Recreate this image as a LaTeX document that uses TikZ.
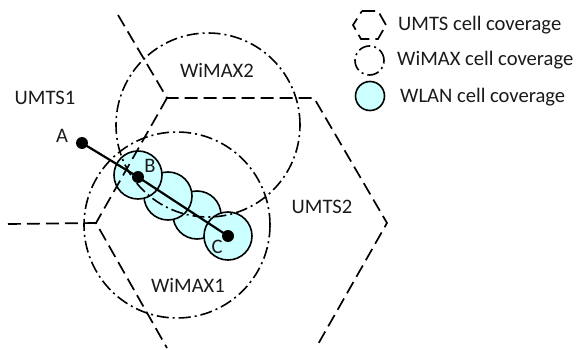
\documentclass[tikz,border=0pt]{standalone}
\usepackage{fontspec}
\setmainfont{Carlito}
\definecolor{wlanfill}{RGB}{204,255,255}
\definecolor{ink}{RGB}{26,26,26}
\begin{document}
\begin{tikzpicture}[x=1pt,y=-1pt,
  umts/.style={line width=1.7pt, dash pattern=on 13pt off 6pt},
  wimaxcell/.style={circle, draw, inner sep=0pt, line width=1.6pt,
    dash pattern=on 12pt off 4pt on 2pt off 4pt},
  wlancell/.style={circle, draw, fill=wlanfill, inner sep=0pt, line width=1.6pt},
  dot/.style={circle, fill=black, inner sep=0pt, minimum size=12pt},
  lbl/.style={font=\fontsize{20.6}{24}\selectfont, text=ink, inner sep=0pt},
  legtext/.style={lbl, anchor=west}]
\useasboundingbox (0,0) rectangle (578,350);

% WLAN hotspots along the path
\node[wlancell, minimum size=48pt] (w3) at (197,215) {};
\node[wlancell, minimum size=48pt] (w2) at (168,196) {};
\node[wlancell, minimum size=48pt] (w1) at (138,175) {};
\node[wlancell, minimum size=48pt] (w4) at (228,236) {};

% WiMAX cells
\node[wimaxcell, minimum size=184pt] (wimax2) at (208,125) {};
\node[wimaxcell, minimum size=186pt] (wimax1) at (177,225) {};

% UMTS hexagon boundaries
\coordinate (p1) at (118,15);
\coordinate (v1) at (167,98);
\coordinate (v2) at (314,98);
\coordinate (v3) at (387,223);
\coordinate (p2) at (317,346);
\coordinate (v4) at (96,223);
\coordinate (p3) at (8,224);
\coordinate (p4) at (167,348);
\draw[umts] (p1) -- (v1) -- (v2) -- (v3) -- (p2);
\draw[umts] (v1) -- (v4);
\draw[umts] (p3) -- (v4) -- (p4);

% user path
\node[dot] (A) at (82,143) {};
\node[dot] (B) at (138,177) {};
\node[dot] (C) at (228,236) {};
\draw[line width=2.2pt] (A.center) -- (B.center) -- (C.center);

% labels
\node[lbl] (lA) at (62,136) {A};
\node[lbl] (lB) at (150,166) {B};
\node[lbl] (lC) at (217,247) {C};
\node[lbl] (lumts1) at (45,98) {UMTS1};
\node[lbl] (lumts2) at (322,207) {UMTS2};
\node[lbl] (lwimax2) at (217,70) {WiMAX2};
\node[lbl] (lwimax1) at (188,285) {WiMAX1};

% legend
\draw[umts] (362,11) -- (378,11) -- (386,25) -- (378,39) -- (361,39) -- (353,25) -- cycle;
\node[wimaxcell, minimum size=29pt] (legwimax) at (369.5,60.5) {};
\node[wlancell, minimum size=29pt] (legwlan) at (370,96) {};
\node[legtext] (tumts) at (398,25) {UMTS cell coverage};
\node[legtext] (twimax) at (397,60) {WiMAX cell coverage};
\node[legtext] (twlan) at (400,97) {WLAN cell coverage};
\end{tikzpicture}
\end{document}
